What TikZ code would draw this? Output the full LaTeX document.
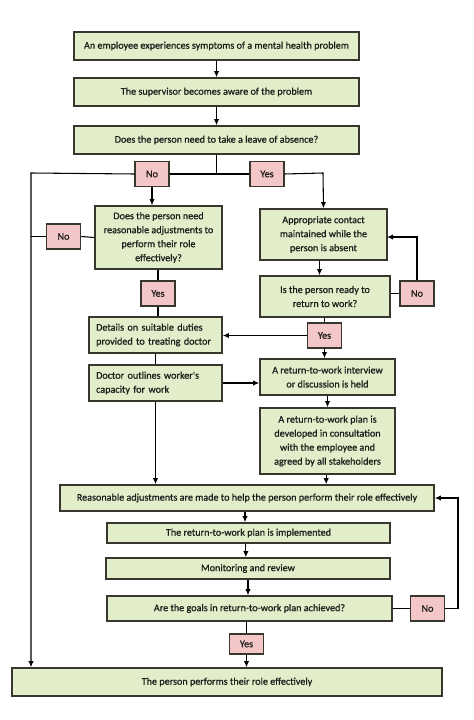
\documentclass[tikz,border=0pt]{standalone}
\usepackage{fontspec}
\setmainfont{Carlito}
\newfontfamily\flowfont{Carlito}[BoldFont={Carlito}, BoldFeatures={FakeBold=0.9}]
\usetikzlibrary{arrows.meta}

\definecolor{boxgreen}{RGB}{226,238,201}
\definecolor{labelpink}{RGB}{243,199,199}
\definecolor{edgegrey}{RGB}{55,55,46}
\definecolor{inkgrey}{RGB}{30,30,28}

\newcommand*{\lftx}{31}
\newcommand*{\loopx}{458}
\newcommand*{\splity}{173}

\begin{document}
\begin{tikzpicture}
[
	x=0.75pt, y=-0.75pt,
	stepbox/.style={draw=edgegrey, line width=1.2pt, fill=boxgreen, text=inkgrey, inner sep=1pt, align=center, font=\flowfont\bfseries\fontsize{7.6}{10.5}\selectfont},
	stepleft/.style={stepbox, align=left, text width=89pt},
	answer/.style={draw=edgegrey, line width=1.1pt, fill=labelpink, text=inkgrey, inner sep=0pt, minimum width=25.5pt, minimum height=18.75pt, font=\flowfont\bfseries\fontsize{7.6}{9}\selectfont},
	flow/.style={line width=0.8pt, draw=black},
	>={Latex[length=4.5pt,width=4pt]}
]

	% page
	\useasboundingbox (0,0) rectangle (474,720);
	\fill[white] (0,0) rectangle (474,720);

	% main column
	\node[stepbox, minimum width=213.75pt, minimum height=21pt] (symptoms) at (216.5,46) {An employee experiences symptoms of a mental health problem};
	\node[stepbox, minimum width=213.75pt, minimum height=21pt] (aware) at (216.5,92) {The supervisor becomes aware of the problem};
	\node[stepbox, minimum width=213.75pt, minimum height=21pt] (leave) at (216.5,140) {Does the person need to take a leave of absence?};

	% left branch
	\node[stepbox, minimum width=95.25pt, minimum height=47.25pt] (needadj) at (158.5,237.5) {Does the person need\\reasonable adjustments to\\perform their role\\effectively?};
	\node[stepleft, minimum width=99.75pt, minimum height=27pt] (duties) at (155.5,335) {Details on suitable duties\\provided to treating doctor};
	\node[stepleft, minimum width=99.75pt, minimum height=27pt] (doctor) at (155.5,383) {Doctor outlines worker's\\capacity for work};

	% right branch
	\node[stepbox, minimum width=95.25pt, minimum height=38.25pt] (contact) at (323.5,234.5) {Appropriate contact\\maintained while the\\person is absent};
	\node[stepbox, minimum width=97.5pt, minimum height=30.75pt] (ready) at (325,296.5) {Is the person ready to\\return to work?};
	\node[stepbox, minimum width=101.25pt, minimum height=27pt] (interview) at (327.5,377) {A return-to-work interview\\or discussion is held};
	\node[stepbox, minimum width=101.25pt, minimum height=49.5pt] (rtwplan) at (327.5,441) {A return-to-work plan is\\developed in consultation\\with the employee and\\agreed by all stakeholders};

	% lower column
	\node[stepbox, minimum width=280.5pt, minimum height=19.5pt] (adjust) at (247,498) {Reasonable adjustments are made to help the person perform their role effectively};
	\node[stepbox, minimum width=212.25pt, minimum height=15pt] (implement) at (248.5,533) {The return-to-work plan is implemented};
	\node[stepbox, minimum width=213pt, minimum height=15.75pt] (monitor) at (248,568.5) {Monitoring and review};
	\node[stepbox, minimum width=213.75pt, minimum height=18.75pt] (goals) at (249.5,608.5) {Are the goals in return-to-work plan achieved?};
	\node[stepbox, minimum width=322.5pt, minimum height=21pt] (effective) at (227,682) {The person performs their role effectively};

	% answers
	\node[answer] (leaveno) at (152,174) {No};
	\node[answer] (leaveyes) at (267,174) {Yes};
	\node[answer] (adjno) at (63.5,236.5) {No};
	\node[answer] (adjyes) at (158,293.5) {Yes};
	\node[answer] (readyno) at (417,293.5) {No};
	\node[answer] (readyyes) at (324.5,335.5) {Yes};
	\node[answer] (goalsno) at (427.5,608.5) {No};
	\node[answer, minimum height=15pt] (goalsyes) at (246.5,644) {Yes};

	% corners
	\coordinate (splitleft) at (\lftx,\splity);
	\coordinate (splitright) at (323,\splity);
	\coordinate (loopcorner) at (\loopx,608.5);
	\coordinate (contactin) at (387,237);

	% top
	\draw[flow,->] (symptoms) -- (aware);
	\draw[flow,->] (aware) -- (leave);
	\draw[flow] (leave.south) -- (leave.south |- leaveno.east);
	\draw[flow] (leaveno.east) -- (leaveyes.west);

	% no leave
	\draw[flow,->] (leaveno.west) -- (splitleft) -- (splitleft |- effective.north);
	\draw[flow,->] (leaveno.south) -- (leaveno.south |- needadj.north);
	\draw[flow] (needadj.west) -- (adjno.east);
	\draw[flow] (adjno.west) -- (adjno.west -| splitleft);
	\draw[flow] (needadj.south -| adjyes.north) -- (adjyes.north);
	\draw[flow] (adjyes.south) -- (adjyes.south |- duties.north);
	\draw[flow] (duties.south) -- (doctor.north);
	\draw[flow,->] (doctor.east) -- (doctor.east -| interview.west);
	\draw[flow,->] (doctor.south) -- (doctor.south |- adjust.north);

	% leave
	\draw[flow,->] (leaveyes.east) -- (splitright) -- (contact.north);
	\draw[flow,->] ([xshift=-3pt]contact.south) -- ([xshift=-3pt]contact.south |- ready.north);
	\draw[flow] (ready.east |- readyno.west) -- (readyno.west);
	\draw[flow,->] (readyno.north) -- (readyno.north |- contactin) -- (contactin);
	\draw[flow] (ready.south -| readyyes.north) -- (readyyes.north);
	\draw[flow,->] (readyyes.west) -- (readyyes.west -| duties.east);
	\draw[flow,->] (readyyes.south) -- (readyyes.south |- interview.north);
	\draw[flow,->] (interview.south) -- (rtwplan.north);
	\draw[flow,->] ([xshift=-1pt]rtwplan.south) -- ([xshift=-1pt]rtwplan.south |- adjust.north);

	% bottom
	\draw[flow,->] ([xshift=-1.5pt]adjust.south) -- ([xshift=-1.5pt]adjust.south |- implement.north);
	\draw[flow,->] ([xshift=-2pt]implement.south) -- ([xshift=-2pt]implement.south |- monitor.north);
	\draw[flow,->] (monitor.south) -- (monitor.south |- goals.north);
	\draw[flow] (goals.east) -- (goalsno.west);
	\draw[flow,->] (goalsno.east) -- (loopcorner) -- (loopcorner |- adjust.east) -- (adjust.east);
	\draw[flow] (goals.south -| goalsyes.north) -- (goalsyes.north);
	\draw[flow,->] (goalsyes.south) -- (goalsyes.south |- effective.north);

\end{tikzpicture}
\end{document}
